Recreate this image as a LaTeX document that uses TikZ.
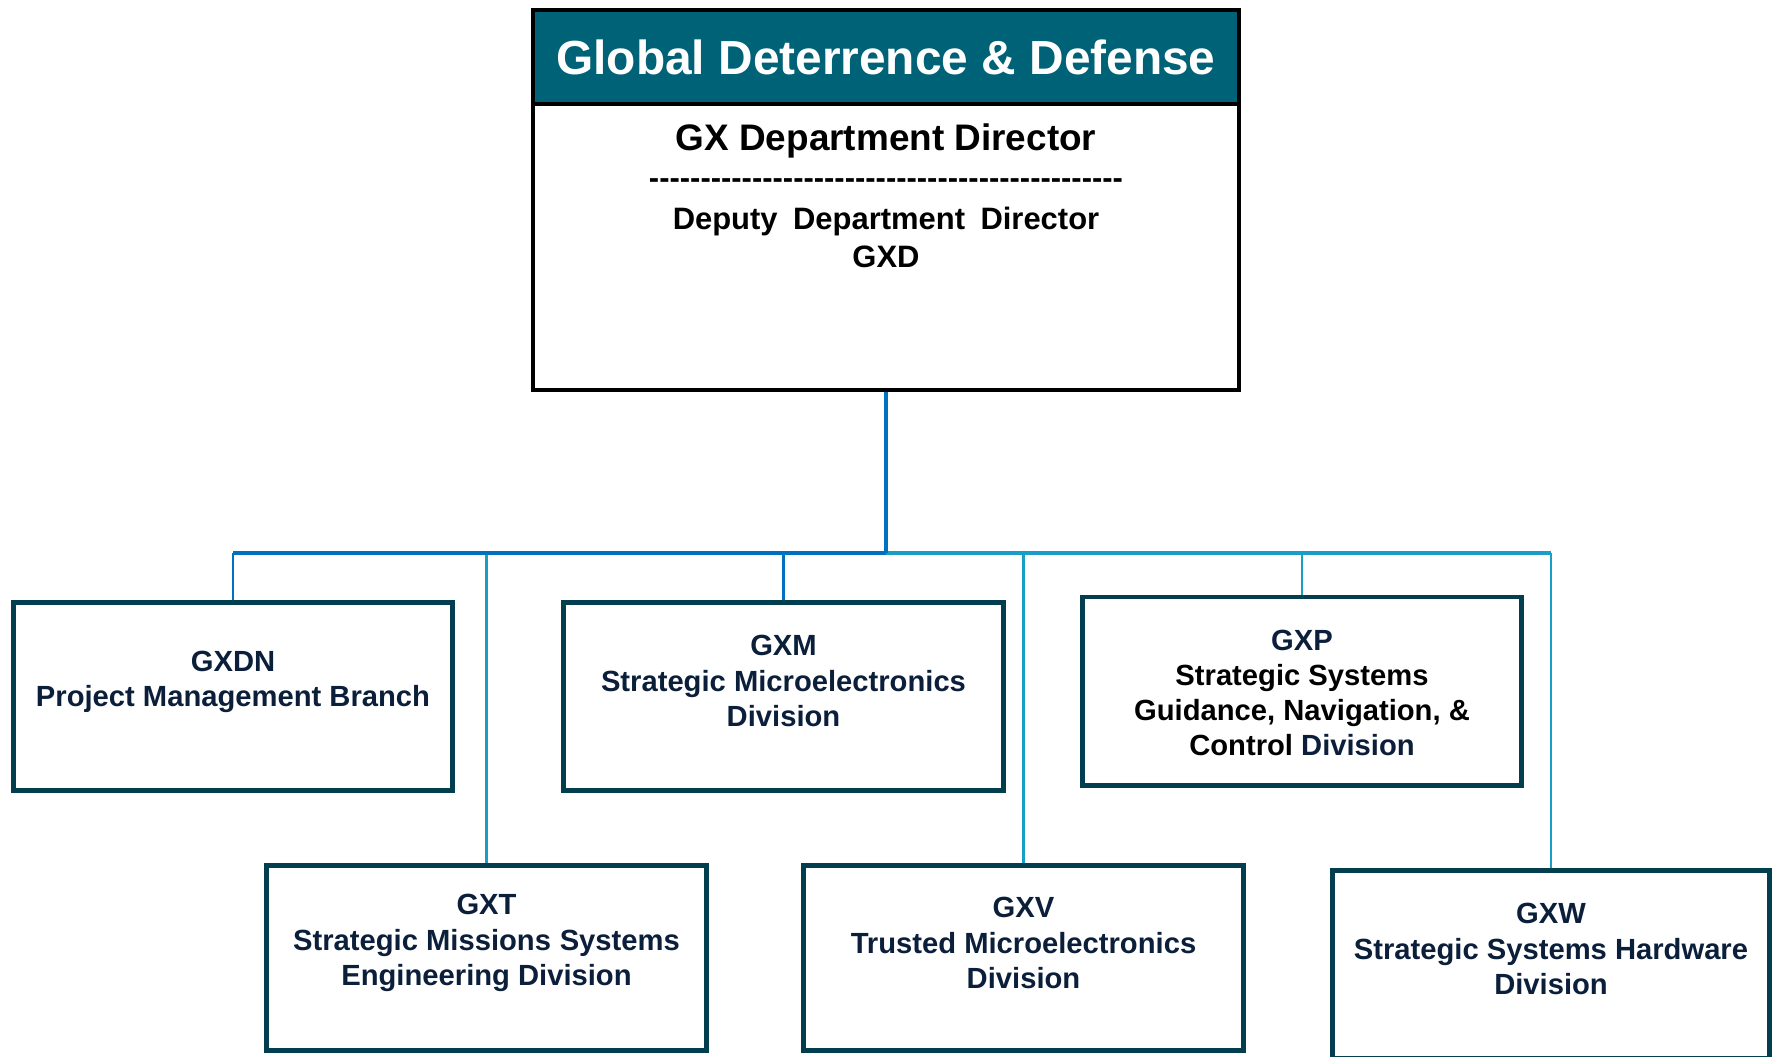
\documentclass[tikz,border=0pt]{standalone}
\usepackage{fontspec}
\setmainfont{Liberation Sans}
\usepackage{xcolor}
\usetikzlibrary{positioning}
\usetikzlibrary{calc}

\definecolor{headteal}{HTML}{006277}
\definecolor{boxline}{HTML}{023E4E}
\definecolor{boxtext}{HTML}{0B1F3A}
\definecolor{linkdark}{HTML}{0070C0}
\definecolor{linklight}{HTML}{1A9EC6}

\tikzset{
    unittext/.style={align=center,inner sep=0,text=boxtext,font=\fontsize{8.3}{10}\selectfont\bfseries}
}

\begin{document}
\begin{tikzpicture}[x=0.01cm,y=-0.01cm]
    \useasboundingbox (0,0) rectangle (1773,1056);
    \node[draw=black,line width=1.2pt,minimum width=7.06cm,minimum height=3.8cm,inner sep=0] (gxd) at (886,200) {};
    \node[draw=black,line width=1.2pt,fill=headteal,minimum width=7.06cm,minimum height=0.94cm,inner sep=0,anchor=north,text=white,font=\fontsize{13.6}{16}\selectfont\bfseries] (head) at (gxd.north) {Global Deterrence \& Defense};
    \begin{scope}[every node/.style={inner sep=0,align=center,text=black}]
    \node[font=\fontsize{10.5}{12}\selectfont\bfseries] (dir) at (886,141) {GX Department Director};
    \node[font=\fontsize{8.8}{10}\selectfont\bfseries] (dash) at (886,184) {\foreach \i in {1,...,46}{\mbox{-}}};
    \node[font=\fontsize{8.8}{10.8}\selectfont\bfseries] (dep) at (886,237) {Deputy\hspace{0.5em}Department\hspace{0.5em}Director\\GXD};
    \end{scope}
    \begin{scope}[every node/.style={draw=boxline,line width=1.4pt,minimum width=4.39cm,minimum height=1.88cm,inner sep=0}]
    \node (gxdn) at (233,696.5) {};
    \node (gxm) at (783.5,696.5) {};
    \node (gxp) at (1302,691) {};
    \node[minimum height=1.85cm] (gxt) at (486.5,958) {};
    \node[minimum height=1.85cm] (gxv) at (1023.5,958) {};
    \node[minimum width=4.37cm] (gxw) at (1551,964.5) {};
    \end{scope}
    \node[unittext] (gxdnname) at (233,682) {GXDN\\Project Management Branch};
    \node[unittext] (gxmname) at (783.5,681) {GXM\\Strategic Microelectronics\\Division};
    \node[unittext] (gxpname) at (1302,693) {GXP\\\textcolor{black}{Strategic Systems}\\\textcolor{black}{Guidance, Navigation, \&}\\\textcolor{black}{Control} Division};
    \node[unittext] (gxtname) at (486.5,943) {GXT\\Strategic Missions\hspace{0.3em}Systems\\Engineering Division};
    \node[unittext] (gxvname) at (1023.5,943) {GXV\\Trusted Microelectronics\\Division};
    \node[unittext] (gxwname) at (1551,949) {GXW\\Strategic Systems Hardware\\Division};
    \coordinate (hub) at (886,553);
    \begin{scope}[every edge/.style={draw=linklight,line width=0.75pt}]
    \path (gxt |- hub) edge (gxt);
    \path (gxv |- hub) edge (gxv);
    \path (gxp |- hub) edge (gxp);
    \path (gxw |- hub) edge (gxw);
    \path (hub) edge[line width=1.1pt] (gxw |- hub);
    \end{scope}
    \begin{scope}[every edge/.style={draw=linkdark,line width=0.75pt}]
    \path (gxd) edge[line width=0.9pt] (hub);
    \path (gxdn |- hub) edge (gxdn);
    \path (gxm |- hub) edge (gxm);
    \path (hub) edge[line width=1.1pt] (gxdn |- hub);
    \end{scope}
\end{tikzpicture}
\end{document}
